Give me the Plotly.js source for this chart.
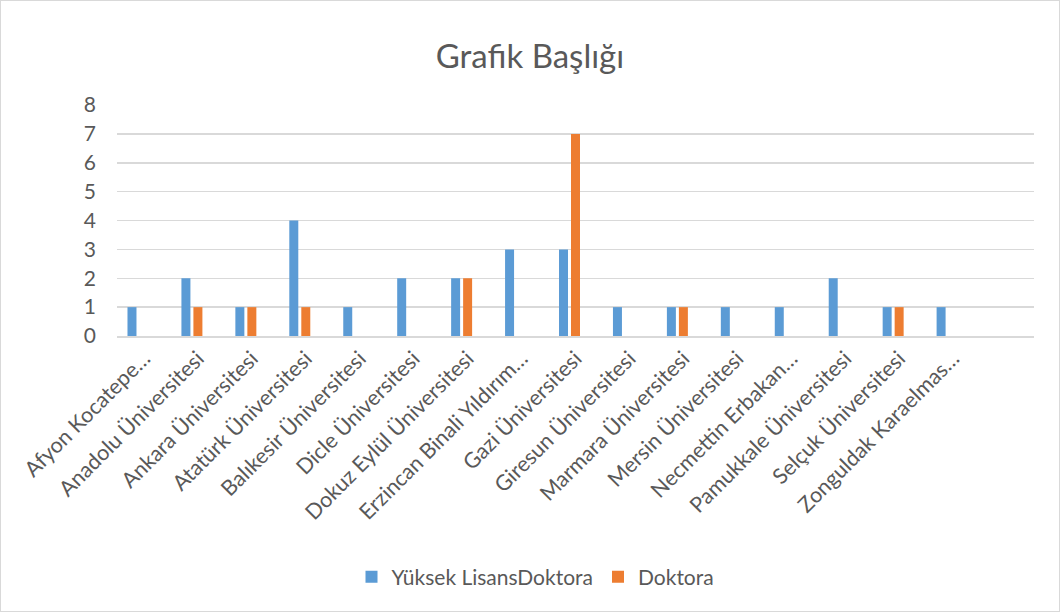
<!DOCTYPE html>
<html>
<head>
<meta charset="utf-8">
<script src="https://cdn.plot.ly/plotly-3.0.1.min.js"></script>
<style>
html,body{margin:0;padding:0;background:#fff;}
#wrap{position:relative;width:1060px;height:612px;}
#chart{width:1060px;height:612px;}
#border{position:absolute;left:0;top:0;width:1060px;height:612px;box-sizing:border-box;border:1px solid #d9d9d9;pointer-events:none;}
</style>
</head>
<body>
<div id="wrap"><div id="chart"></div><div id="border"></div></div>
<script>
const categories = [
  "Afyon Kocatepe…", "Anadolu Üniversitesi", "Ankara Üniversitesi", "Atatürk Üniversitesi",
  "Balıkesir Üniversitesi", "Dicle Üniversitesi", "Dokuz Eylül Üniversitesi", "Erzincan Binali Yıldırım…",
  "Gazi Üniversitesi", "Giresun Üniversitesi", "Marmara Üniversitesi", "Mersin Üniversitesi",
  "Necmettin Erbakan…", "Pamukkale Üniversitesi", "Selçuk Üniversitesi", "Zonguldak Karaelmas…"
];
const yuksekLisansDoktora = [1, 2, 1, 4, 1, 2, 2, 3, 3, 1, 1, 1, 1, 2, 1, 1];
const doktora = [null, 1, 1, 1, null, null, 2, null, 7, null, 1, null, null, null, 1, null];
const emptySeries = categories.map(() => null);
const yTicks = [0, 1, 2, 3, 4, 5, 6, 7, 8];

const font = "Lato, 'Open Sans', sans-serif";
const textColor = "#595959";

const traces = [
  {type: "bar", name: "Yüksek LisansDoktora", x: categories, y: yuksekLisansDoktora,
   marker: {color: "#5B9BD5"}, hoverinfo: "x+y+name"},
  {type: "bar", name: "Doktora", x: categories, y: doktora,
   marker: {color: "#ED7D31"}, hoverinfo: "x+y+name"},
  {type: "bar", name: "", x: categories, y: emptySeries,
   marker: {color: "#A5A5A5"}, showlegend: false, hoverinfo: "skip"}
];

const layout = {
  width: 1060, height: 612,
  margin: {l: 117, r: 26, t: 105, b: 276},
  paper_bgcolor: "#fff", plot_bgcolor: "#fff",
  font: {family: font, color: textColor, size: 21},
  title: {text: "Grafik Başlığı", font: {family: font, size: 33, color: textColor},
          x: 0.5, xanchor: "center", y: 1 - 56/612, yanchor: "middle", xref: "container", yref: "container"},
  barmode: "group",
  bargap: 0.333,
  bargroupgap: 0.25,
  xaxis: {type: "category", range: [-0.5, 16.5], tickangle: -45,
          tickfont: {family: font, size: 21.5, color: textColor},
          showgrid: false, showline: true, linecolor: "#D9D9D9", linewidth: 1.5,
          ticks: "", zeroline: false, fixedrange: true},
  yaxis: {range: [0, 8], tickvals: yTicks, ticktext: yTicks.map(String),
          tickfont: {family: font, size: 21, color: textColor},
          showgrid: true, gridcolor: "#D9D9D9", gridwidth: 1.5,
          zeroline: false, showline: false, ticks: "", ticklabelstandoff: 20, fixedrange: true},
  legend: {orientation: "h", x: 0.5 - 40/917, xanchor: "center", y: (336 - 577) / 231, yanchor: "middle",
           font: {family: font, size: 21, color: textColor}, itemsizing: "constant"},
  showlegend: true
};

Plotly.newPlot("chart", traces, layout, {displayModeBar: false, staticPlot: true});
</script>
</body>
</html>
